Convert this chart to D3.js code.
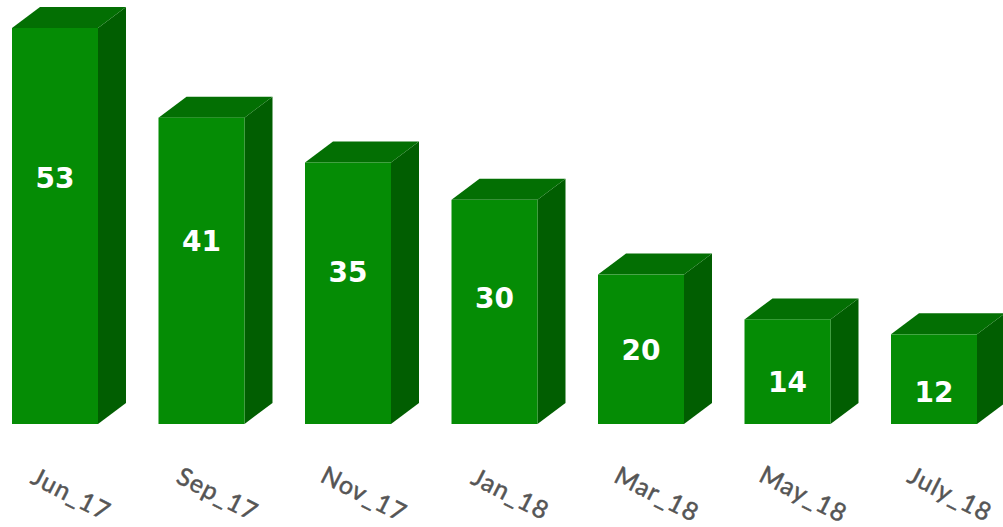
<!DOCTYPE html>
<html>
<head>
<meta charset="utf-8">
<script src="https://cdn.jsdelivr.net/npm/d3@7"></script>
<style>
  body { margin: 0; background: #fff; }
  svg { display: block; }
</style>
</head>
<body>
<script>
//chart data
var categories = ["Jun_17", "Sep_17", "Nov_17", "Jan_18", "Mar_18", "May_18", "July_18"];
var values = [53, 41, 35, 30, 20, 14, 12];

var width = 1003,
    height = 527,
    baseY = 424,
    depthX = 28,
    depthY = 21;

var svg = d3.select("body")
    .append("svg")
    .attr("width", width)
    .attr("height", height);

var x = d3.scaleBand()
    .domain(categories)
    .range([12, 977])
    .paddingInner(0.413)
    .paddingOuter(0)
    .align(0);

var y = d3.scaleLinear()
    .domain([0, 53])
    .range([baseY, 28]);

var data = categories.map(function (c, i) { return { cat: c, val: values[i] }; });

var bars = svg.selectAll(".bar")
    .data(data)
    .enter()
    .append("g")
    .attr("class", "bar");

//right side face
bars.append("path")
    .attr("d", function (d) {
        var x1 = x(d.cat) + x.bandwidth(), t = y(d.val);
        return "M" + x1 + "," + t + "L" + (x1 + depthX) + "," + (t - depthY) +
            "L" + (x1 + depthX) + "," + (baseY - depthY) + "L" + x1 + "," + baseY + "Z";
    })
    .style("fill", "#015e01");

//top face
bars.append("path")
    .attr("d", function (d) {
        var x0 = x(d.cat), x1 = x0 + x.bandwidth(), t = y(d.val);
        return "M" + x0 + "," + t + "L" + (x0 + depthX) + "," + (t - depthY) +
            "L" + (x1 + depthX) + "," + (t - depthY) + "L" + x1 + "," + t + "Z";
    })
    .style("fill", "#036f03");

//front face
bars.append("rect")
    .attr("x", function (d) { return x(d.cat); })
    .attr("y", function (d) { return y(d.val); })
    .attr("width", x.bandwidth())
    .attr("height", function (d) { return baseY - y(d.val); })
    .style("fill", "#058c05");

//value labels
bars.append("text")
    .attr("x", function (d) { return x(d.cat) + x.bandwidth() / 2; })
    .attr("y", function (d) {
        var h = baseY - y(d.val);
        return baseY - (0.7 * h - 33) - 2;
    })
    .attr("dy", "0.36em")
    .attr("text-anchor", "middle")
    .style("font-family", "'DejaVu Sans', Arial, sans-serif")
    .style("font-weight", "bold")
    .style("font-size", "28px")
    .style("fill", "#fff")
    .text(function (d) { return d.val; });

//category labels, rotated
bars.append("text")
    .attr("transform", function (d) {
        var cx = x(d.cat) + x.bandwidth() / 2 + 16;
        return "translate(" + cx + ",494) rotate(27)";
    })
    .attr("text-anchor", "middle")
    .attr("dy", "0.35em")
    .style("font-family", "Lato, 'Open Sans', sans-serif")
    .style("font-size", "25px")
    .style("letter-spacing", "1px")
    .style("fill", "#555")
    .style("stroke", "#555")
    .style("stroke-width", 0.5)
    .text(function (d) { return d.cat; });
</script>
</body>
</html>
